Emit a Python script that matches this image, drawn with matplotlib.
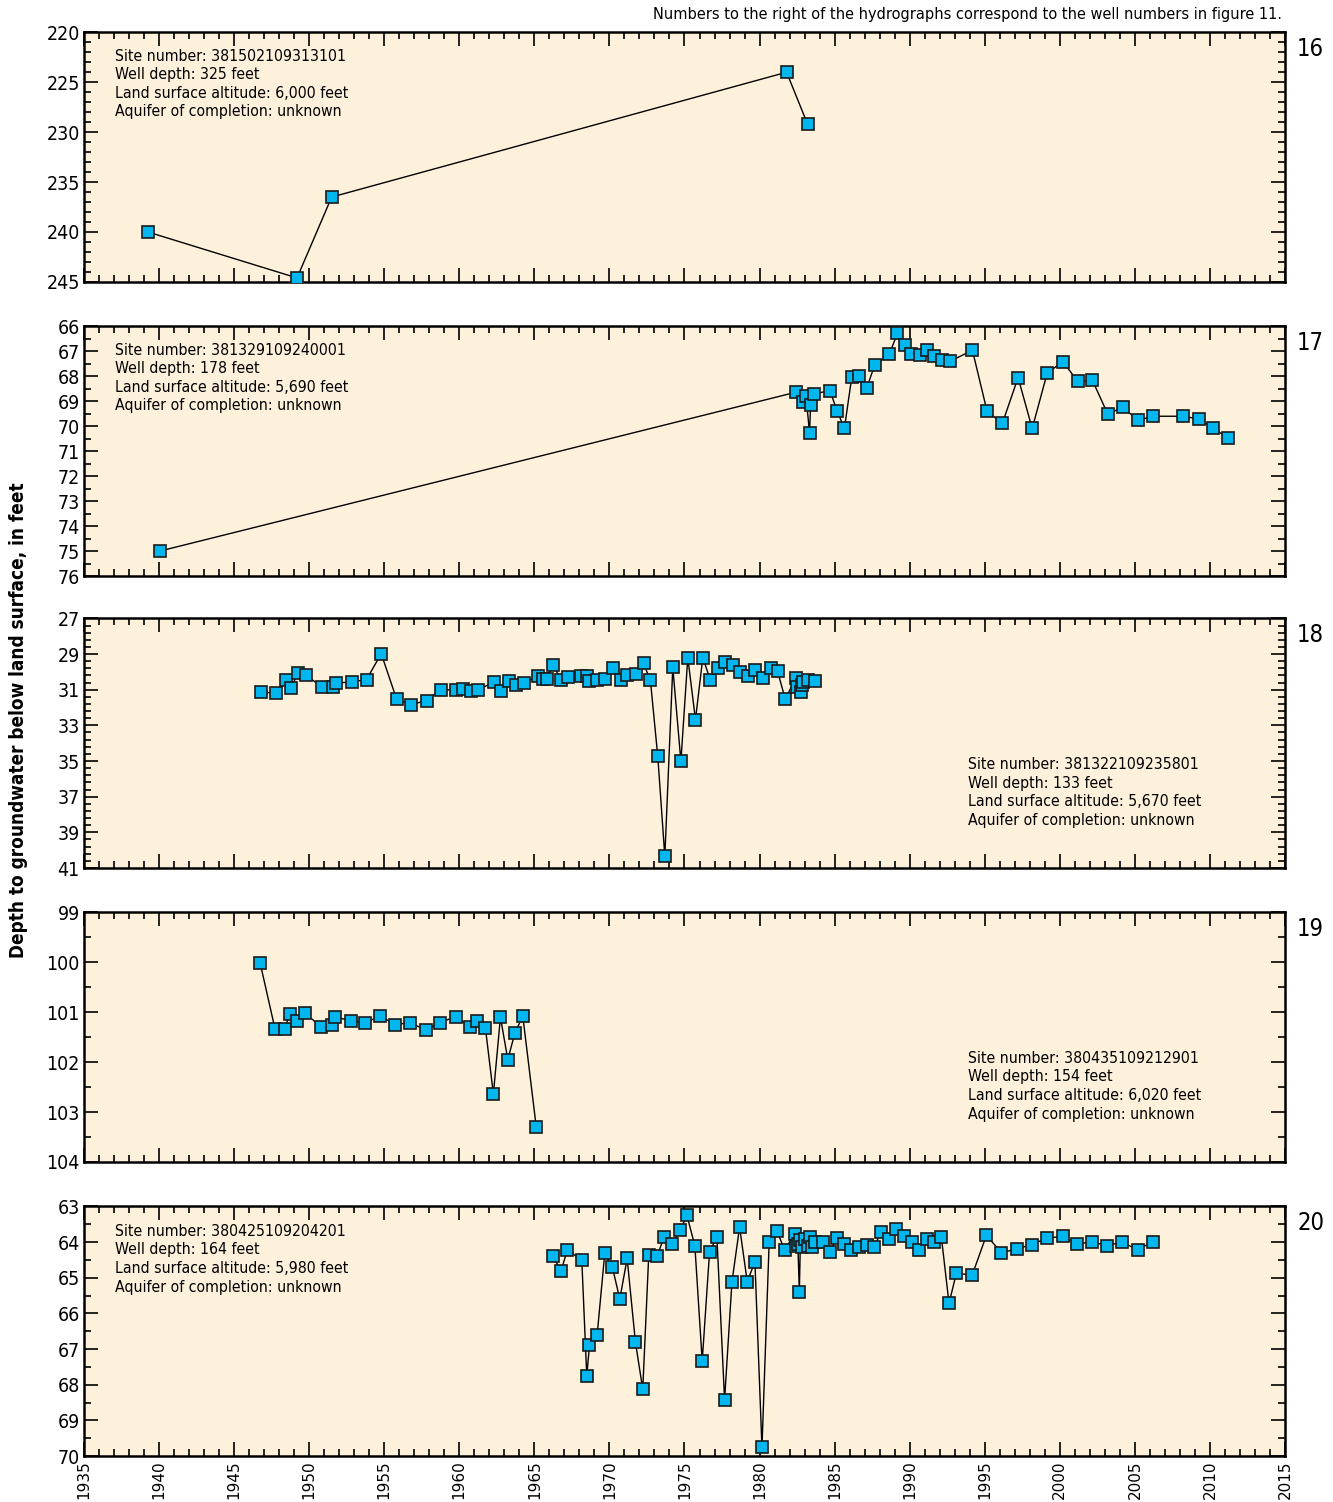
import numpy as np
import matplotlib
matplotlib.use("Agg")
import matplotlib.pyplot as plt

plt.rcParams['font.family'] = ['DejaVu Sans']
plt.rcParams['font.stretch'] = 'condensed'

# well 16
yr16 = [1939.26, 1949.19, 1951.5, 1981.8, 1983.2]
dp16 = [240.0, 244.6, 236.5, 224.0, 229.2]

# well 17
yr17 = [1940.06, 1982.40, 1982.88, 1983.09, 1983.33, 1983.40, 1983.61, 1984.68,
        1985.17, 1985.65, 1986.14, 1986.62, 1987.13, 1987.67, 1988.64, 1989.18,
        1989.69, 1990.12, 1990.66, 1991.17, 1991.65, 1992.16, 1992.67, 1994.18,
        1995.15, 1996.17, 1997.22, 1998.16, 1999.16, 2000.21, 2001.18, 2002.17,
        2003.20, 2004.19, 2005.19, 2006.24, 2008.23, 2009.25, 2010.22, 2011.22]
dp17 = [75.0, 68.64, 69.04, 68.77, 70.27, 69.13, 68.71, 68.57,
        69.39, 70.09, 68.04, 68.00, 68.48, 67.55, 67.12, 66.28,
        66.75, 67.09, 67.16, 66.96, 67.17, 67.33, 67.40, 66.96,
        69.39, 69.89, 68.05, 70.09, 67.87, 67.41, 68.20, 68.16,
        69.52, 69.23, 69.76, 69.60, 69.60, 69.71, 70.08, 70.48]

# well 18
yr18 = [1946.78, 1947.78, 1948.44, 1948.76, 1949.27, 1949.78, 1950.87, 1951.62,
        1951.80, 1952.84, 1953.82, 1954.80, 1955.82, 1956.78, 1957.82, 1958.78,
        1959.78, 1960.27, 1960.78, 1961.24, 1962.33, 1962.80, 1963.31, 1963.80,
        1964.31, 1965.22, 1965.56, 1965.82, 1966.24, 1966.78, 1967.22, 1968.09,
        1968.49, 1968.67, 1969.18, 1969.71, 1970.24, 1970.78, 1971.20, 1971.76,
        1972.27, 1972.73, 1973.22, 1973.69, 1974.22, 1974.76, 1975.22, 1975.73,
        1976.22, 1976.73, 1977.20, 1977.71, 1978.20, 1978.71, 1979.22, 1979.71,
        1980.22, 1980.73, 1981.20, 1981.71, 1982.42, 1982.47, 1982.73, 1982.82,
        1982.91, 1983.20, 1983.71]
dp18 = [31.14, 31.18, 30.43, 30.92, 30.07, 30.20, 30.84, 30.86,
        30.63, 30.56, 30.43, 28.98, 31.52, 31.84, 31.61, 30.99,
        31.03, 30.97, 31.08, 30.99, 30.58, 31.10, 30.54, 30.71,
        30.63, 30.24, 30.39, 30.39, 29.64, 30.43, 30.26, 30.24,
        30.24, 30.54, 30.47, 30.41, 29.81, 30.48, 30.20, 30.13,
        29.52, 30.48, 34.74, 40.35, 29.75, 35.02, 29.20, 32.68,
        29.20, 30.48, 29.79, 29.45, 29.63, 30.01, 30.22, 29.90,
        30.37, 29.80, 29.97, 31.52, 30.35, 30.86, 31.12, 30.76,
        30.58, 30.43, 30.50]

# well 19
yr19 = [1946.73, 1947.72, 1948.37, 1948.70, 1949.19, 1949.72, 1950.79, 1951.54,
        1951.72, 1952.79, 1953.74, 1954.72, 1955.70, 1956.74, 1957.76, 1958.70,
        1959.76, 1960.69, 1961.18, 1961.74, 1962.27, 1962.74, 1963.23, 1963.71,
        1964.23, 1965.13]
dp19 = [100.01, 101.33, 101.33, 101.04, 101.17, 101.02, 101.29, 101.25,
        101.10, 101.17, 101.22, 101.07, 101.25, 101.21, 101.36, 101.21,
        101.09, 101.29, 101.17, 101.32, 102.64, 101.10, 101.95, 101.41,
        101.08, 103.31]

# well 20
yr20 = [1966.22, 1966.78, 1967.20, 1968.16, 1968.49, 1968.67, 1969.18, 1969.69,
        1970.20, 1970.69, 1971.18, 1971.73, 1972.22, 1972.62, 1973.18, 1973.64,
        1974.16, 1974.71, 1975.16, 1975.69, 1976.18, 1976.67, 1977.16, 1977.67,
        1978.16, 1978.67, 1979.18, 1979.69, 1980.16, 1980.64, 1981.16, 1981.67,
        1982.33, 1982.45, 1982.55, 1982.65, 1982.72, 1982.85, 1983.00, 1983.20,
        1983.35, 1983.50, 1983.70, 1984.20, 1984.67, 1985.13, 1985.62, 1986.11,
        1986.60, 1987.13, 1987.62, 1988.11, 1988.62, 1989.11, 1989.62, 1990.13,
        1990.62, 1991.13, 1991.62, 1992.11, 1992.62, 1993.11, 1994.16, 1995.11,
        1996.11, 1997.16, 1998.13, 1999.13, 2000.18, 2001.13, 2002.16, 2003.16,
        2004.13, 2005.18, 2006.20]
dp20 = [64.39, 64.80, 64.22, 64.51, 67.75, 66.90, 66.61, 64.31,
        64.71, 65.60, 64.46, 66.80, 68.13, 64.35, 64.39, 63.86,
        64.06, 63.67, 63.25, 64.10, 67.34, 64.27, 63.86, 68.43,
        65.12, 63.58, 65.11, 64.55, 69.76, 64.00, 63.68, 64.23,
        63.76, 64.10, 64.05, 65.39, 63.95, 64.15, 63.92, 64.10,
        63.85, 64.15, 64.00, 64.00, 64.28, 63.88, 64.05, 64.23,
        64.14, 64.09, 64.13, 63.72, 63.90, 63.63, 63.82, 64.00,
        64.21, 63.91, 64.00, 63.86, 65.72, 64.87, 64.93, 63.81,
        64.30, 64.19, 64.07, 63.89, 63.84, 64.05, 64.00, 64.10,
        64.00, 64.21, 63.99]

well_numbers = ['16', '17', '18', '19', '20']
site_info = [
    ('381502109313101', '325', '6,000'),
    ('381329109240001', '178', '5,690'),
    ('381322109235801', '133', '5,670'),
    ('380435109212901', '154', '6,020'),
    ('380425109204201', '164', '5,980'),
]
years = [yr16, yr17, yr18, yr19, yr20]
depths = [dp16, dp17, dp18, dp19, dp20]
ylims = [(220, 245), (66, 76), (27, 41), (99, 104), (63, 70)]
major = [5, 1, 2, 1, 1]
minor = [1, 0.5, 0.4, 0.5, 0.5]
text_pos = [(0.026, 0.935), (0.026, 0.935), (0.736, 0.445), (0.736, 0.445), (0.026, 0.93)]
year_ticks = list(range(1935, 2016, 5))

bg = '#fef1dc'
blue = '#00b6ef'

fig = plt.figure(figsize=(13.33, 15.02), dpi=100)
bottoms = [0.8123, 0.6165, 0.4221, 0.2264, 0.0306]
h = 0.1662

for i in range(5):
    ax = fig.add_axes([0.063, bottoms[i], 0.901, h])
    ax.set_facecolor(bg)
    ax.plot(years[i], depths[i], color='black', lw=1.0, marker='s', ms=8.5,
            mfc=blue, mec='#1a1a1a', mew=1.2, zorder=3)
    ax.set_xlim(1935, 2015)
    lo, hi = ylims[i]
    ax.set_ylim(hi, lo)
    ax.set_xticks(year_ticks)
    ax.set_xticks(np.arange(1935, 2016, 1), minor=True)
    ax.set_yticks(np.arange(lo, hi + 0.01, major[i]))
    ax.set_yticks(np.arange(lo, hi + 0.01, minor[i]), minor=True)
    ax.tick_params(which='both', direction='in', top=True, right=True, width=1.2,
                   labelsize=14, pad=3)
    ax.tick_params(which='major', length=10)
    ax.tick_params(which='minor', length=5)
    for s in ax.spines.values():
        s.set_linewidth(1.8)
    if i < 4:
        ax.tick_params(labelbottom=False)
    else:
        ax.set_xticklabels([str(y) for y in year_ticks], rotation=90,
                           fontsize=11, fontstretch='normal')
    site, wd, alt = site_info[i]
    txt = ('Site number: %s\nWell depth: %s feet\nLand surface altitude: %s feet\n'
           'Aquifer of completion: unknown' % (site, wd, alt))
    ax.text(text_pos[i][0], text_pos[i][1], txt, transform=ax.transAxes,
            fontsize=11.3, va='top', ha='left', linespacing=1.3)
    ax.text(1.01, 0.935, well_numbers[i], transform=ax.transAxes,
            fontsize=17, va='center', ha='left')

fig.text(0.962, 0.9905, 'Numbers to the right of the hydrographs correspond to the well numbers in figure 11.',
         ha='right', va='center', fontsize=11.7)
fig.text(0.014, 0.5206, 'Depth to groundwater below land surface, in feet',
         rotation=90, ha='center', va='center', fontsize=13.6, fontweight='bold')

fig.savefig('out.png', dpi=100)
